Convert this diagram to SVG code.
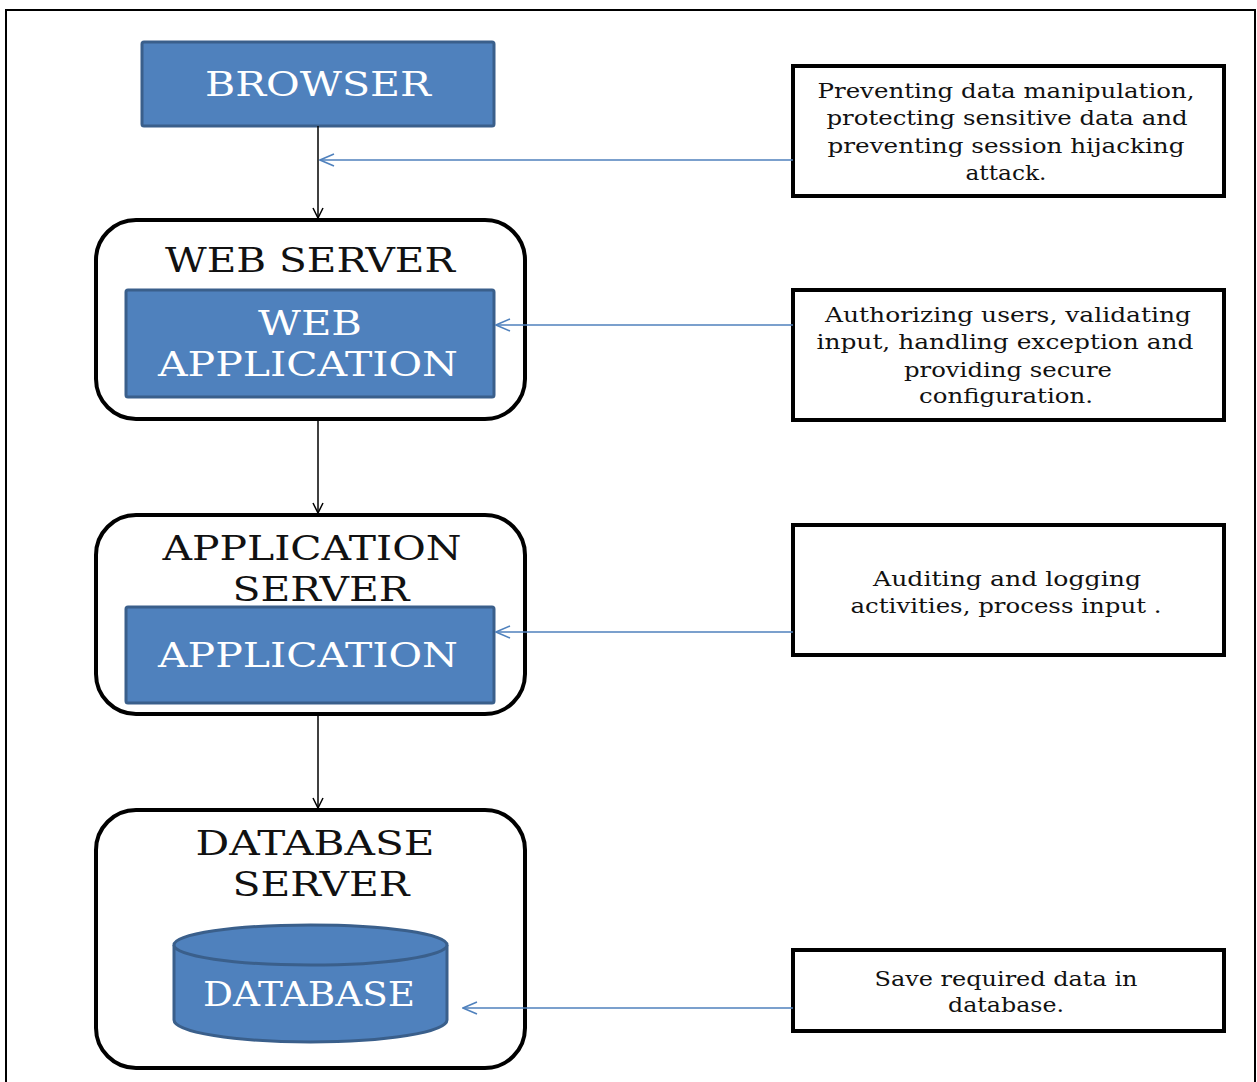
<svg xmlns="http://www.w3.org/2000/svg" width="1257" height="1082" viewBox="0 0 1257 1082">
  <defs>
    <style>
      .frame { fill: none; stroke: #000; stroke-width: 2; }
      .server { fill: #fff; stroke: #000; stroke-width: 4; }
      .blue { fill: #4F81BD; stroke: #3A5F8B; stroke-width: 3; }
      .note { fill: #fff; stroke: #000; stroke-width: 4; }
      .flow { stroke: #000; stroke-width: 1.5; fill: none; marker-end: url(#blackHead); }
      .link { stroke: #4F81BD; stroke-width: 1.5; fill: none; marker-end: url(#blueHead); }
      .head { font-family: "DejaVu Serif", "Liberation Serif", serif; font-size: 34px; fill: #111; text-anchor: middle; }
      .inner { font-family: "DejaVu Serif", "Liberation Serif", serif; font-size: 34px; fill: #fff; text-anchor: middle; }
      .body { font-family: "DejaVu Serif", "Liberation Serif", serif; font-size: 21px; fill: #111; text-anchor: middle; }
    </style>
    <marker id="blackHead" viewBox="0 0 12 12" refX="11" refY="6" markerWidth="12" markerHeight="12" markerUnits="userSpaceOnUse" orient="auto">
      <path d="M1,1 L11,6 L1,11" fill="none" stroke="#000" stroke-width="1.5"/>
    </marker>
    <marker id="blueHead" viewBox="0 0 16 14" refX="15" refY="7" markerWidth="16" markerHeight="14" markerUnits="userSpaceOnUse" orient="auto">
      <path d="M1,1 L15,7 L1,13" fill="none" stroke="#4F81BD" stroke-width="1.5"/>
    </marker>
  </defs>

  <rect width="1257" height="1082" fill="#fff"/>
  <path class="frame" d="M6,1082 V10 H1255 V1082"/>

  <!-- client tier -->
  <g id="browser">
    <rect class="blue" x="142" y="42" width="352" height="84" rx="2"/>
    <text class="inner" x="318" y="96" textLength="226" lengthAdjust="spacingAndGlyphs">BROWSER</text>
  </g>

  <!-- web tier -->
  <g id="web-server">
    <rect class="server" x="96" y="220" width="429" height="199" rx="40"/>
    <text class="head" x="310" y="272" textLength="290" lengthAdjust="spacingAndGlyphs">WEB SERVER</text>
    <g id="web-application">
      <rect class="blue" x="126" y="290" width="368" height="107" rx="2"/>
      <text class="inner" x="310" y="335" textLength="104" lengthAdjust="spacingAndGlyphs">WEB</text>
      <text class="inner" x="308" y="376" textLength="300" lengthAdjust="spacingAndGlyphs">APPLICATION</text>
    </g>
  </g>

  <!-- application tier -->
  <g id="application-server">
    <rect class="server" x="96" y="515" width="429" height="199" rx="40"/>
    <text class="head" x="312" y="560" textLength="299" lengthAdjust="spacingAndGlyphs">APPLICATION</text>
    <text class="head" x="321" y="601" textLength="177" lengthAdjust="spacingAndGlyphs">SERVER</text>
    <g id="application">
      <rect class="blue" x="126" y="607" width="368" height="96" rx="2"/>
      <text class="inner" x="308" y="667" textLength="300" lengthAdjust="spacingAndGlyphs">APPLICATION</text>
    </g>
  </g>

  <!-- data tier -->
  <g id="database-server">
    <rect class="server" x="96" y="810" width="429" height="258" rx="40"/>
    <text class="head" x="315" y="855" textLength="239" lengthAdjust="spacingAndGlyphs">DATABASE</text>
    <text class="head" x="321" y="896" textLength="177" lengthAdjust="spacingAndGlyphs">SERVER</text>
    <g id="database">
      <path class="blue" d="M174,945 V1020 A136.5,22 0 0 0 447,1020 V945"/>
      <ellipse class="blue" cx="310.5" cy="945" rx="136.5" ry="20"/>
      <text class="inner" x="309" y="1006" font-size="30" textLength="212" lengthAdjust="spacingAndGlyphs">DATABASE</text>
    </g>
  </g>

  <!-- security notes -->
  <g id="note-browser">
    <rect class="note" x="793" y="66" width="431" height="130"/>
    <text class="body" x="1006" y="98" textLength="377" lengthAdjust="spacingAndGlyphs">Preventing data manipulation,</text>
    <text class="body" x="1007" y="125" textLength="361" lengthAdjust="spacingAndGlyphs">protecting sensitive  data and</text>
    <text class="body" x="1006" y="153" textLength="357" lengthAdjust="spacingAndGlyphs">preventing session  hijacking</text>
    <text class="body" x="1006" y="180" textLength="81" lengthAdjust="spacingAndGlyphs">attack.</text>
  </g>

  <g id="note-web">
    <rect class="note" x="793" y="290" width="431" height="130"/>
    <text class="body" x="1008" y="322" textLength="366" lengthAdjust="spacingAndGlyphs">Authorizing users, validating</text>
    <text class="body" x="1005" y="349" textLength="377" lengthAdjust="spacingAndGlyphs">input, handling exception and</text>
    <text class="body" x="1008" y="377" textLength="208" lengthAdjust="spacingAndGlyphs">providing secure</text>
    <text class="body" x="1006" y="403" textLength="174" lengthAdjust="spacingAndGlyphs">configuration.</text>
  </g>

  <g id="note-application">
    <rect class="note" x="793" y="525" width="431" height="130"/>
    <text class="body" x="1007" y="586" textLength="268" lengthAdjust="spacingAndGlyphs">Auditing and logging</text>
    <text class="body" x="1006" y="613" textLength="311" lengthAdjust="spacingAndGlyphs">activities, process input .</text>
  </g>

  <g id="note-database">
    <rect class="note" x="793" y="950" width="431" height="81"/>
    <text class="body" x="1006" y="986" textLength="263" lengthAdjust="spacingAndGlyphs">Save required data in</text>
    <text class="body" x="1006" y="1012" textLength="116" lengthAdjust="spacingAndGlyphs">database.</text>
  </g>

  <!-- connectors, drawn over the tier boxes they cross -->
  <g id="connectors">
    <line class="flow" x1="318" y1="126" x2="318" y2="218"/>
    <line class="flow" x1="318" y1="420" x2="318" y2="513"/>
    <line class="flow" x1="318" y1="715" x2="318" y2="808"/>
    <line class="link" x1="793" y1="160" x2="320" y2="160"/>
    <line class="link" x1="793" y1="325" x2="496" y2="325"/>
    <line class="link" x1="793" y1="632" x2="496" y2="632"/>
    <line class="link" x1="793" y1="1008" x2="463" y2="1008"/>
  </g>
</svg>
